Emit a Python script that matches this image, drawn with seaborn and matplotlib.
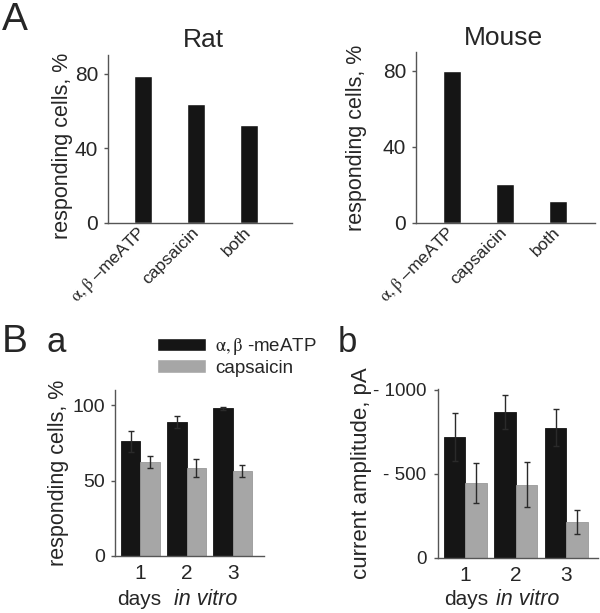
import numpy as np
import pandas as pd
import matplotlib
matplotlib.use("Agg")
import matplotlib.pyplot as plt
import seaborn as sns

sns.set_style("ticks")
plt.rcParams['font.family'] = ['Liberation Sans', 'DejaVu Sans']
plt.rcParams['mathtext.fontset'] = 'stix'

# ---------------- data ----------------
cats_A = ["$\\mathrm{\\alpha,\\beta}$ \u2013meATP", "capsaicin", "both"]
rat_vals = [79, 63.5, 52.5]
mouse_vals = [80, 20.5, 11.5]

days = ["1", "2", "3"]
series = ["$\\mathrm{\\alpha,\\beta}$ -meATP", "capsaicin"]
resp_atp = [76, 89, 98]
resp_atp_err = [7, 4, 1]
resp_cap = [62.5, 58.5, 56.5]
resp_cap_err = [4, 6, 4]
amp_atp = [716, 867, 774]
amp_atp_err = [142, 102, 110]
amp_cap = [443, 435, 212]
amp_cap_err = [120, 134, 70]

BLACK = "#151515"
GRAY = "#a6a6a6"
SPINE = "#555555"

fig = plt.figure(figsize=(6, 6.13), dpi=100)
W, H = 600, 613

def add_ax(l, r, t, b):
    return fig.add_axes([l / W, 1 - b / H, (r - l) / W, (b - t) / H])

def style(ax, fs):
    sns.despine(ax=ax)
    for s in ["left", "bottom"]:
        ax.spines[s].set_color(SPINE)
        ax.spines[s].set_linewidth(1.0)
    ax.tick_params(axis="y", length=3, width=1, color=SPINE, labelsize=fs, pad=4)
    ax.tick_params(axis="x", length=0, labelsize=fs)
    ax.set_xlabel("")

# ---------------- Panel A ----------------
axR = add_ax(108, 292, 55, 223)
axM = add_ax(416, 595, 52, 223)
for ax, vals, title, xl, tpos, lx in [
        (axR, rat_vals, "Rat", (-0.66, 2.81), (0.52, 1.048), -0.19),
        (axM, mouse_vals, "Mouse", (-0.68, 2.70), (0.49, 1.04), -0.274)]:
    df = pd.DataFrame({"cat": cats_A, "val": vals})
    sns.barplot(data=df, x="cat", y="val", color=BLACK, width=0.34,
                saturation=1, errorbar=None, ax=ax)
    style(ax, 15)
    ax.set_xlim(*xl)
    ax.set_ylim(0, 90)
    ax.set_yticks([0, 40, 80])
    ax.set_ylabel("responding cells, %", fontsize=15.5)
    ax.yaxis.set_label_coords(lx, 0.46 if ax is axR else 0.5)
    ax.tick_params(axis="x", labelsize=12.5, pad=5)
    for lab in ax.get_xticklabels():
        lab.set_rotation(45)
        lab.set_ha("right")
        lab.set_va("center")
        lab.set_rotation_mode("anchor")
    ax.text(tpos[0], tpos[1], title, transform=ax.transAxes, ha="center",
            va="baseline", fontsize=19)

# ---------------- Panel B ----------------
axA = add_ax(115, 264, 390, 556)
axB = add_ax(437.7, 598, 389, 557.7)
for ax, atp, atp_e, cap, cap_e, yl, xl, lab, lx, fs, lfs in [
        (axA, resp_atp, resp_atp_err, resp_cap, resp_cap_err, (0, 110),
         (-0.55, 2.68), "responding cells, %", -0.306, 14, 15.5),
        (axB, amp_atp, amp_atp_err, amp_cap, amp_cap_err, (0, 1003),
         (-0.55, 2.63), "current amplitude, pA", -0.41, 13.5, 16)]:
    df = pd.DataFrame({
        "day": days * 2,
        "series": [series[0]] * 3 + [series[1]] * 3,
        "val": atp + cap,
    })
    sns.barplot(data=df, x="day", y="val", hue="series", palette=[BLACK, GRAY],
                width=0.85, saturation=1, errorbar=None, ax=ax, legend=(ax is axA))
    for cont, errs, ec in zip(ax.containers, [atp_e, cap_e], [BLACK, GRAY]):
        xs = [b.get_x() + b.get_width() / 2 for b in cont]
        ys = [b.get_height() for b in cont]
        for b in cont:
            b.set_edgecolor(ec if ec == BLACK else "#999999")
            b.set_linewidth(0.6)
        ax.errorbar(xs, ys, yerr=errs, fmt="none", ecolor="#2a2a2a",
                    elinewidth=1.0, capsize=2, capthick=1.0)
    style(ax, fs)
    ax.set_xlim(*xl)
    ax.set_ylim(*yl)
    ax.tick_params(axis="x", pad=6, labelsize=15)
    ax.set_ylabel(lab, fontsize=lfs)
    ax.yaxis.set_label_coords(lx, 0.5)

axA.set_yticks([0, 50, 100])
axB.set_yticks([0, 500, 1000])
axB.set_yticklabels(["0", "- 500", "- 1000"])
axB.tick_params(axis="y", pad=5)

# legend
handles, labels = axA.get_legend_handles_labels()
axA.get_legend().remove()
fig.legend(handles, labels, loc="upper left", bbox_to_anchor=(157 / W, 1 - 336 / H),
           frameon=False, fontsize=13.5, handlelength=2.6, handleheight=0.75,
           handletextpad=0.5, labelspacing=0.12, borderpad=0, borderaxespad=0)

# x axis text "days in vitro"
for x_days, x_iv in [(117, 174), (444, 496)]:
    fig.text(x_days / W, 1 - 605 / H, "days", fontsize=15, ha="left", va="baseline")
    fig.text(x_iv / W, 1 - 605 / H, "in vitro", fontsize=15.5, ha="left",
             va="baseline", style="italic")

# panel letters
fig.text(2 / W, 1 - 30 / H, "A", fontsize=28, ha="left", va="baseline")
fig.text(2 / W, 1 - 352 / H, "B", fontsize=28, ha="left", va="baseline")
fig.text(46 / W, 1 - 352 / H, "a", fontsize=25, ha="left", va="baseline")
fig.text(338 / W, 1 - 352 / H, "b", fontsize=25, ha="left", va="baseline")

fig.savefig("out.png", dpi=100)
